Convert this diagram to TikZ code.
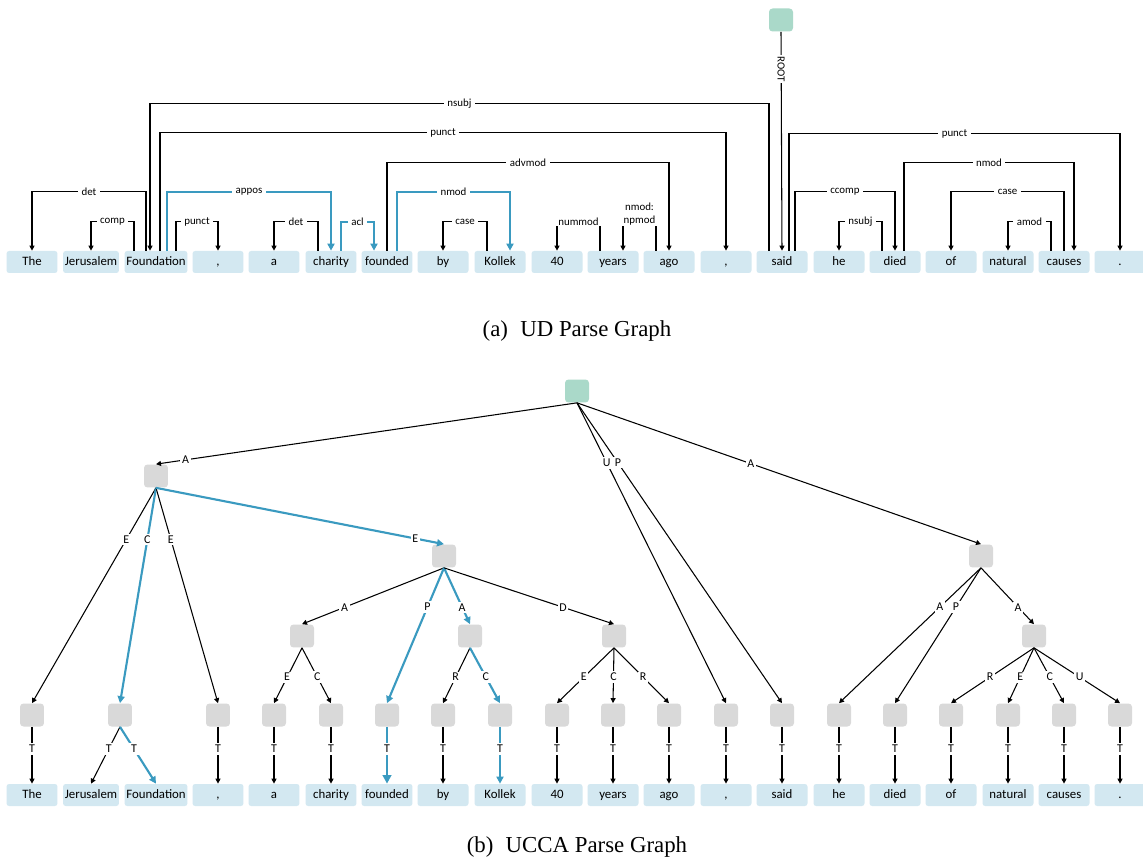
\documentclass[tikz,border=0pt]{standalone}
\usepackage{fontspec}
\setsansfont{Carlito}
\newfontfamily\capfont{Liberation Serif}
\usetikzlibrary{arrows.meta}
\definecolor{wordbg}{HTML}{D3E8F1}
\definecolor{hlblue}{HTML}{3A9AC0}
\definecolor{rootgreen}{HTML}{AAD9C9}
\definecolor{unitgray}{HTML}{D9D9D9}
\begin{document}
\begin{tikzpicture}[x=0.02cm, y=-0.02cm, >={Triangle[length=0.1cm,width=0.1cm]},
  word/.style={fill=wordbg, rounded corners=1.5pt, minimum width=1.02cm, minimum height=0.44cm,
    inner xsep=1pt, inner ysep=0pt, text height=5.2pt, text depth=1.6pt, font=\sffamily\fontsize{7.3}{8.8}\selectfont},
  unit/.style={fill=unitgray, rounded corners=2pt, minimum width=0.48cm, minimum height=0.46cm, inner sep=0pt},
  rootbox/.style={unit, fill=rootgreen},
  dep/.style={->, line width=0.6pt},
  hl/.style={->, draw=hlblue, line width=1.2pt, >={Triangle[length=0.14cm,width=0.14cm]}},
  thl/.style={hl, line width=1.4pt, >={Triangle[length=0.17cm,width=0.17cm]}},
  lab/.style={pos=0.25, fill=white, inner xsep=2pt, inner ysep=0.5pt, text=black, font=\sffamily\fontsize{6.2}{7.4}\selectfont},
  ulab/.style={fill=white, inner sep=1pt, text=black, font=\sffamily\fontsize{6.8}{8}\selectfont},
  caption/.style={anchor=base, font=\capfont\fontsize{13}{15}\selectfont}]
  \useasboundingbox[fill=white] (0,0) rectangle (1143,861);

  % UD parse
  \node[rootbox] (top) at (781,20) {};
  \node[word] (u1) at (32,262) {The};
  \node[word] (u2) at (91,262) {Jerusalem};
  \node[word] (u3) at (156,262) {Foundation};
  \node[word] (u4) at (218,262) {,};
  \node[word] (u5) at (274,262) {a};
  \node[word] (u6) at (331,262) {charity};
  \node[word] (u7) at (387,262) {founded};
  \node[word] (u8) at (443,262) {by};
  \node[word] (u9) at (500,262) {Kollek};
  \node[word] (u10) at (557,262) {40};
  \node[word] (u11) at (613,262) {years};
  \node[word] (u12) at (669,262) {ago};
  \node[word] (u13) at (726,262) {,};
  \node[word] (u14) at (782,262) {said};
  \node[word] (u15) at (839,262) {he};
  \node[word] (u16) at (895,262) {died};
  \node[word] (u17) at (951,262) {of};
  \node[word] (u18) at (1008,262) {natural};
  \node[word] (u19) at (1064,262) {causes};
  \node[word] (u20) at (1120,262) {.};

  \draw[dep] (top.south) -- node[lab, pos=0.17, rotate=-90, inner xsep=1pt, inner ysep=2pt]{ROOT} (u14.north);
  \draw[dep] ([xshift=-0.2cm]u3.north) -- ++(0,-59) -| node[lab]{det} (u1.north);
  \draw[dep] ([xshift=-0.44cm]u3.north) -- ++(0,-29) -| node[lab]{comp} (u2.north);
  \draw[dep] ([xshift=-0.26cm]u14.north) -- ++(0,-147) -| node[lab]{nsubj} ([xshift=-0.12cm]u3.north);
  \draw[dep] ([xshift=0.08cm]u3.north) -- ++(0,-118) -| node[lab]{punct} (u13.north);
  \draw[hl] ([xshift=0.22cm]u3.north) -- ++(0,-59) -| node[lab]{appos} (u6.north);
  \draw[dep] ([xshift=0.4cm]u3.north) -- ++(0,-29) -| node[lab]{punct} (u4.north);
  \draw[dep] ([xshift=-0.26cm]u6.north) -- ++(0,-29) -| node[lab]{det} (u5.north);
  \draw[hl] ([xshift=0.2cm]u6.north) -- ++(0,-29) -| node[lab]{acl} ([xshift=-0.26cm]u7.north);
  \draw[dep] (u7.north) -- ++(0,-88) -| node[lab]{advmod} (u12.north);
  \draw[hl] ([xshift=0.2cm]u7.north) -- ++(0,-59) -| node[lab]{nmod} ([xshift=0.2cm]u9.north);
  \draw[dep] ([xshift=-0.26cm]u9.north) -- ++(0,-29) -| node[lab]{case} (u8.north);
  \draw[dep] ([xshift=-0.26cm]u11.north) -- ++(0,-29) -| node[lab]{nummod} (u10.north);
  \draw[dep] ([xshift=-0.26cm]u12.north) -- ++(0,-29) -| node[lab, align=center, yshift=0.16cm]{nmod:\\npmod} ([xshift=0.2cm]u11.north);
  \draw[dep] ([xshift=0.14cm]u14.north) -- ++(0,-117) -| node[lab]{punct} (u20.north);
  \draw[dep] ([xshift=0.26cm]u14.north) -- ++(0,-59) -| node[lab]{ccomp} (u16.north);
  \draw[dep] ([xshift=0.18cm]u16.north) -- ++(0,-88) -| node[lab]{nmod} ([xshift=0.2cm]u19.north);
  \draw[dep] ([xshift=-0.26cm]u16.north) -- ++(0,-29) -| node[lab]{nsubj} (u15.north);
  \draw[dep] (u19.north) -- ++(0,-59) -| node[lab]{case} (u17.north);
  \draw[dep] ([xshift=-0.26cm]u19.north) -- ++(0,-29) -| node[lab]{amod} (u18.north);

  \node[caption] (capa) at (577,337) {(a)\hspace{7pt}UD Parse Graph};

  % UCCA parse
  \node[rootbox] (r) at (577,391) {};
  \node[unit] (a1) at (156,476) {};
  \node[unit] (e1) at (444,556) {};
  \node[unit] (a2) at (981,556) {};
  \node[unit] (a3) at (302,636) {};
  \node[unit] (a4) at (470,636) {};
  \node[unit] (d1) at (614,636) {};
  \node[unit] (a5) at (1034,636) {};
  \node[unit] (l1) at (32,715) {};
  \node[unit] (l2) at (120,715) {};
  \node[unit] (l3) at (218,715) {};
  \node[unit] (l4) at (274,715) {};
  \node[unit] (l5) at (331,715) {};
  \node[unit] (l6) at (387,715) {};
  \node[unit] (l7) at (443,715) {};
  \node[unit] (l8) at (500,715) {};
  \node[unit] (l9) at (557,715) {};
  \node[unit] (l10) at (613,715) {};
  \node[unit] (l11) at (669,715) {};
  \node[unit] (l12) at (726,715) {};
  \node[unit] (l13) at (782,715) {};
  \node[unit] (l14) at (839,715) {};
  \node[unit] (l15) at (895,715) {};
  \node[unit] (l16) at (951,715) {};
  \node[unit] (l17) at (1008,715) {};
  \node[unit] (l18) at (1064,715) {};
  \node[unit] (l19) at (1120,715) {};
  \node[word] (w1) at (32,795) {The};
  \node[word] (w2) at (91,795) {Jerusalem};
  \node[word] (w3) at (156,795) {Foundation};
  \node[word] (w4) at (218,795) {,};
  \node[word] (w5) at (274,795) {a};
  \node[word] (w6) at (331,795) {charity};
  \node[word] (w7) at (387,795) {founded};
  \node[word] (w8) at (443,795) {by};
  \node[word] (w9) at (500,795) {Kollek};
  \node[word] (w10) at (557,795) {40};
  \node[word] (w11) at (613,795) {years};
  \node[word] (w12) at (669,795) {ago};
  \node[word] (w13) at (726,795) {,};
  \node[word] (w14) at (782,795) {said};
  \node[word] (w15) at (839,795) {he};
  \node[word] (w16) at (895,795) {died};
  \node[word] (w17) at (951,795) {of};
  \node[word] (w18) at (1008,795) {natural};
  \node[word] (w19) at (1064,795) {causes};
  \node[word] (w20) at (1120,795) {.};

  \path[dep]
    (r.south) edge node[ulab, pos=0.93]{A} (a1.north)
    (r.south) edge node[ulab, pos=0.2]{U} (l12.north)
    (r.south) edge node[ulab, pos=0.2]{P} (l13.north)
    (r.south) edge node[ulab, pos=0.43]{A} (a2.north)
    (a1.south) edge node[ulab, pos=0.24]{E} (l1.north)
    (a1.south) edge[hl] node[ulab, pos=0.24]{C} (l2.north)
    (a1.south) edge node[ulab, pos=0.24]{E} (l3.north)
    (a1.south) edge[hl] node[ulab, pos=0.9]{E} (e1.north)
    (e1.south) edge node[ulab, pos=0.7]{A} (a3.north)
    (e1.south) edge[hl] node[ulab, pos=0.29]{P} (l6.north)
    (e1.south) edge[hl] node[ulab, pos=0.7]{A} (a4.north)
    (e1.south) edge node[ulab, pos=0.7]{D} (d1.north)
    (a2.south) edge node[ulab, pos=0.29]{A} (l14.north)
    (a2.south) edge node[ulab, pos=0.29]{P} (l15.north)
    (a2.south) edge node[ulab, pos=0.7]{A} (a5.north)
    (a3.south) edge node[ulab, pos=0.53]{E} (l4.north)
    (a3.south) edge node[ulab, pos=0.53]{C} (l5.north)
    (a4.south) edge node[ulab, pos=0.53]{R} (l7.north)
    (a4.south) edge[hl] node[ulab, pos=0.53]{C} (l8.north)
    (d1.south) edge node[ulab, pos=0.53]{E} (l9.north)
    (d1.south) edge node[ulab, pos=0.53]{C} (l10.north)
    (d1.south) edge node[ulab, pos=0.53]{R} (l11.north)
    (a5.south) edge node[ulab, pos=0.53]{R} (l16.north)
    (a5.south) edge node[ulab, pos=0.53]{E} (l17.north)
    (a5.south) edge node[ulab, pos=0.53]{C} (l18.north)
    (a5.south) edge node[ulab, pos=0.53]{U} (l19.north);

  \path[dep]
    (l1.south) edge node[ulab, pos=0.39]{T} (w1.north)
    (l2.south) edge node[ulab, pos=0.39]{T} (w2.north)
    (l2.south) edge[hl] node[ulab, pos=0.39]{T} (w3.north)
    (l3.south) edge node[ulab, pos=0.39]{T} (w4.north)
    (l4.south) edge node[ulab, pos=0.39]{T} (w5.north)
    (l5.south) edge node[ulab, pos=0.39]{T} (w6.north)
    (l6.south) edge[thl] node[ulab, pos=0.39]{T} (w7.north)
    (l7.south) edge node[ulab, pos=0.39]{T} (w8.north)
    (l8.south) edge[hl] node[ulab, pos=0.39]{T} (w9.north)
    (l9.south) edge node[ulab, pos=0.39]{T} (w10.north)
    (l10.south) edge node[ulab, pos=0.39]{T} (w11.north)
    (l11.south) edge node[ulab, pos=0.39]{T} (w12.north)
    (l12.south) edge node[ulab, pos=0.39]{T} (w13.north)
    (l13.south) edge node[ulab, pos=0.39]{T} (w14.north)
    (l14.south) edge node[ulab, pos=0.39]{T} (w15.north)
    (l15.south) edge node[ulab, pos=0.39]{T} (w16.north)
    (l16.south) edge node[ulab, pos=0.39]{T} (w17.north)
    (l17.south) edge node[ulab, pos=0.39]{T} (w18.north)
    (l18.south) edge node[ulab, pos=0.39]{T} (w19.north)
    (l19.south) edge node[ulab, pos=0.39]{T} (w20.north);

  \node[caption] (capb) at (577,852) {(b)\hspace{7pt}UCCA Parse Graph};
\end{tikzpicture}
\end{document}
